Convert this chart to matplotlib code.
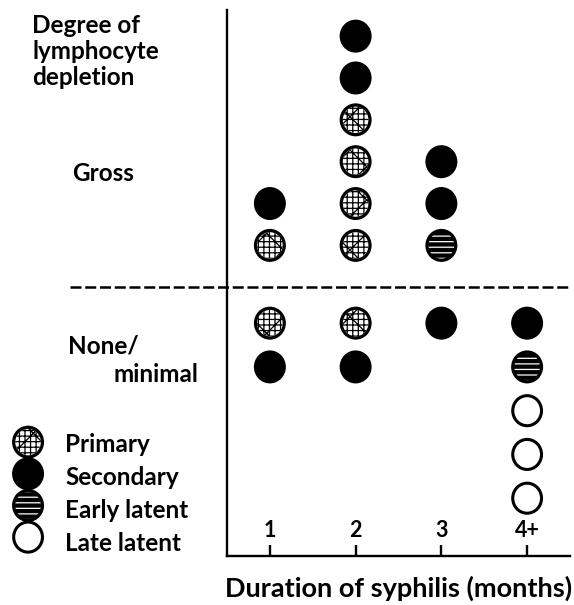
import matplotlib.pyplot as plt
from matplotlib.patches import Ellipse

plt.rcParams['font.family'] = ['Lato', 'DejaVu Sans']
plt.rcParams['font.weight'] = 'bold'
plt.rcParams['hatch.linewidth'] = 0.9

# duration of syphilis (x categories)
durations = ['1', '2', '3', '4+']
stages = ['Primary', 'Secondary', 'Early latent', 'Late latent']

# cases in each duration column, listed outward from the dashed line
gross = [
    ['Primary', 'Secondary'],
    ['Primary', 'Primary', 'Primary', 'Primary', 'Secondary', 'Secondary'],
    ['Early latent', 'Secondary', 'Secondary'],
    [],
]
none_minimal = [
    ['Primary', 'Secondary'],
    ['Primary', 'Secondary'],
    ['Secondary'],
    ['Secondary', 'Early latent', 'Late latent', 'Late latent', 'Late latent'],
]

W, H = 574, 605


def fx(px):
    return px / W


def fy(py):
    return 1 - py / H


fig = plt.figure(figsize=(W / 100, H / 100), dpi=100)
ax = fig.add_axes([fx(227), fy(556), (570 - 227) / W, (556 - 10) / H])
ax.set_xlim(0.5, 4.5)
ax.set_ylim(-6.33, 6.52)

CW, CH = 0.373, 0.777  # marker size in data units


def marker(x, y, stage):
    if stage == 'Late latent':
        ax.add_patch(Ellipse((x, y), CW * 0.9, CH * 0.91, fc='white', ec='black',
                             lw=2.2, clip_on=False))
        return
    ax.add_patch(Ellipse((x, y), CW, CH, fc='black', ec='none', clip_on=False))
    if stage == 'Primary':
        ax.add_patch(Ellipse((x, y), CW * 0.8, CH * 0.8, fc='white', ec='black',
                             lw=0, hatch='+++x', clip_on=False))
    elif stage == 'Early latent':
        ax.add_patch(Ellipse((x, y), CW * 0.8, CH * 0.8, fc='none', ec='white',
                             lw=0, hatch='---', clip_on=False))


for i, col in enumerate(gross):
    for j, st in enumerate(col):
        marker(i + 1, 0.98 + 0.985 * j, st)

for i, col in enumerate(none_minimal):
    for j, st in enumerate(col):
        marker(i + 1, -(0.85 + 1.03 * j), st)

# dashed divider
ax.plot([-1.33, 4.5], [0, 0], color='black', lw=1.8, ls=(0, (4.4, 1.5)),
        clip_on=False, solid_capstyle='butt')

for s in ['top', 'right']:
    ax.spines[s].set_visible(False)
for s in ['left', 'bottom']:
    ax.spines[s].set_linewidth(1.7)
ax.set_yticks([])
ax.set_xticks(range(1, len(durations) + 1))
ax.set_xticklabels([])
ax.tick_params(axis='x', direction='in', length=8, width=1.7)

for i, d in enumerate(durations):
    ax.text(i + 1, -5.88, d, ha='center', va='baseline', fontsize=15.5)

# legend
for k, st in enumerate(stages):
    marker(-1.82, -3.65 - 0.745 * k, st)
    fig.text(fx(65), fy(452 + 33 * k), st, ha='left', va='baseline', fontsize=17.5)

for k, line in enumerate(['Degree of', 'lymphocyte', 'depletion']):
    fig.text(fx(32), fy(33 + 26 * k), line, ha='left', va='baseline', fontsize=17.5)
fig.text(fx(72), fy(181), 'Gross', ha='left', va='baseline', fontsize=17.5)
fig.text(fx(68), fy(353), 'None/', ha='left', va='baseline', fontsize=17.5)
fig.text(fx(198), fy(382), 'minimal', ha='right', va='baseline', fontsize=17.5)
fig.text(fx(399), fy(597), 'Duration of syphilis (months)', ha='center', va='baseline',
         fontsize=19.5)

fig.savefig('out.png', dpi=100)
